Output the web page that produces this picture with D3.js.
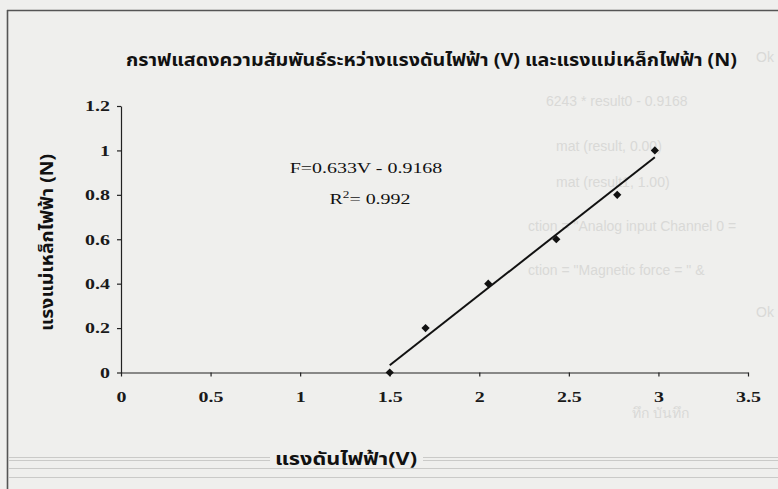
<!DOCTYPE html>
<html>
<head>
<meta charset="utf-8">
<script src="https://cdn.jsdelivr.net/npm/d3@7"></script>
<style>
  html, body { margin: 0; padding: 0; background: #efefed; }
  svg { display: block; }
</style>
</head>
<body>
<svg id="chart" width="778" height="489"></svg>
<script>
// Measured points: applied voltage (V) and magnetic force (N)
const voltage = [1.5, 1.7, 2.05, 2.43, 2.77, 2.98];
const force = [0, 0.2, 0.4, 0.6, 0.8, 1.0];

// Linear fit reported on the chart
const fitSlope = 0.633;
const fitIntercept = -0.9168;
const rSquared = 0.992;

const xTicks = [0, 0.5, 1, 1.5, 2, 2.5, 3, 3.5];
const yTicks = [0, 0.2, 0.4, 0.6, 0.8, 1, 1.2];

const titleText = "กราฟแสดงความสัมพันธ์ระหว่างแรงดันไฟฟ้า (V) และแรงแม่เหล็กไฟฟ้า (N)";
const xLabelText = "แรงดันไฟฟ้า(V)";
const yLabelText = "แรงแม่เหล็กไฟฟ้า (N)";

// Faint show-through text in the background of the sheet
const ghostLines = [
  { t: "6243 * result0 - 0.9168", x: 546, y: 106 },
  { t: "mat (result, 0.00)", x: 556, y: 151 },
  { t: "mat (result1, 1.00)", x: 556, y: 187 },
  { t: "ction = \"Analog input Channel 0 =", x: 528, y: 231 },
  { t: "ction = \"Magnetic force = \" &", x: 528, y: 275 },
  { t: "ทึก บันทึก", x: 632, y: 418 },
  { t: "Ok", x: 756, y: 62 },
  { t: "Ok", x: 756, y: 317 }
];

const svg = d3.select("#chart");
const W = 778, H = 489;
const stretch = 1.33;            // glyphs are drawn wide
const serif = "'Liberation Serif', 'Times New Roman', serif";
const thai = "'Noto Sans Thai', 'Loma', 'Garuda', 'Norasi', 'Noto Sans', sans-serif";

svg.append("rect").attr("width", W).attr("height", H).attr("fill", "#efefed");

// background show-through text
const ghost = svg.append("g").attr("fill", "#d9d9d7")
  .attr("font-family", "'Liberation Sans', Arial, sans-serif").attr("font-size", 14);
ghost.selectAll("text").data(ghostLines).join("text")
  .attr("x", d => d.x).attr("y", d => d.y)
  .text(d => d.t);

// sheet frame: top and left border
svg.append("line").attr("x1", 7).attr("x2", W).attr("y1", 10.5).attr("y2", 10.5)
  .attr("stroke", "#555").attr("stroke-width", 1.6);
svg.append("line").attr("x1", 7.5).attr("x2", 7.5).attr("y1", 10).attr("y2", H)
  .attr("stroke", "#555").attr("stroke-width", 1.6);

// grey rules along the bottom
const rules = [457, 460, 468, 477];
svg.append("g").selectAll("line").data(rules).join("line")
  .attr("x1", 9).attr("x2", W).attr("y1", d => d + 0.5).attr("y2", d => d + 0.5)
  .attr("stroke", "#cacac8").attr("stroke-width", 1);

// scales
const x = d3.scaleLinear().domain([0, 3.5]).range([121, 748]);
const y = d3.scaleLinear().domain([0, 1.2]).range([372.5, 106]);

// axes
const xAxis = svg.append("g").attr("transform", `translate(0,${y(0)})`)
  .call(d3.axisBottom(x).tickValues(xTicks).tickSize(4).tickPadding(15)
    .tickFormat(d3.format("~g")).tickSizeOuter(0));
const yAxis = svg.append("g").attr("transform", `translate(${x(0)},0)`)
  .call(d3.axisLeft(y).tickValues(yTicks).tickSize(4).tickPadding(7)
    .tickFormat(d3.format("~g")).tickSizeOuter(0));

[xAxis, yAxis].forEach(g => {
  g.select(".domain").attr("stroke", "#222").attr("stroke-width", 1.2);
  g.selectAll(".tick line").attr("stroke", "#222").attr("stroke-width", 1.2);
  g.selectAll(".tick text").attr("fill", "#1a1a1a")
    .attr("font-family", serif).attr("font-weight", "bold").attr("font-size", 15);
});
xAxis.selectAll(".tick text").attr("transform", `scale(${stretch},1)`);
yAxis.selectAll(".tick text")
  .attr("x", -11 / stretch)
  .attr("transform", `scale(${stretch},1)`);

// trendline from the fitted equation
const xMin = d3.min(voltage), xMax = d3.max(voltage);
svg.append("line")
  .attr("x1", x(xMin)).attr("y1", y(fitSlope * xMin + fitIntercept))
  .attr("x2", x(xMax)).attr("y2", y(fitSlope * xMax + fitIntercept))
  .attr("stroke", "#111").attr("stroke-width", 2);

// data markers (diamonds)
const pts = voltage.map((v, i) => ({ v, f: force[i] }));
svg.append("g").selectAll("path").data(pts).join("path")
  .attr("d", d3.symbol().type(d3.symbolSquare).size(34))
  .attr("transform", d => `translate(${x(d.v)},${y(d.f)}) rotate(45)`)
  .attr("fill", "#111");

// equation and R² annotation
const eq = svg.append("g").attr("font-family", serif).attr("font-size", 15).attr("fill", "#111");
eq.append("text")
  .attr("transform", `translate(366,173) scale(${stretch},1)`)
  .attr("text-anchor", "middle")
  .text(`F=${fitSlope}V - ${Math.abs(fitIntercept)}`);
const r2 = eq.append("text")
  .attr("transform", `translate(370,204) scale(${stretch},1)`)
  .attr("text-anchor", "middle");
r2.append("tspan").text("R");
r2.append("tspan").attr("font-size", 10).attr("dy", -6).text("2");
r2.append("tspan").attr("dy", 6).text(`= ${rSquared}`);

// title
svg.append("text")
  .attr("x", 126).attr("y", 66)
  .attr("font-family", thai).attr("font-weight", "bold").attr("font-size", 18)
  .attr("fill", "#111")
  .attr("textLength", 611).attr("lengthAdjust", "spacingAndGlyphs")
  .text(titleText);

// x-axis title on a backing patch over the rules
svg.append("rect").attr("x", 270).attr("y", 445).attr("width", 153).attr("height", 22)
  .attr("fill", "#efefed");
svg.append("text")
  .attr("x", 275).attr("y", 465)
  .attr("font-family", thai).attr("font-weight", "bold").attr("font-size", 18)
  .attr("fill", "#111")
  .attr("textLength", 142).attr("lengthAdjust", "spacingAndGlyphs")
  .text(xLabelText);

// y-axis title
svg.append("text")
  .attr("transform", "translate(53,331) rotate(-90)")
  .attr("font-family", thai).attr("font-weight", "bold").attr("font-size", 18)
  .attr("fill", "#111")
  .attr("textLength", 177).attr("lengthAdjust", "spacingAndGlyphs")
  .text(yLabelText);
</script>
</body>
</html>
